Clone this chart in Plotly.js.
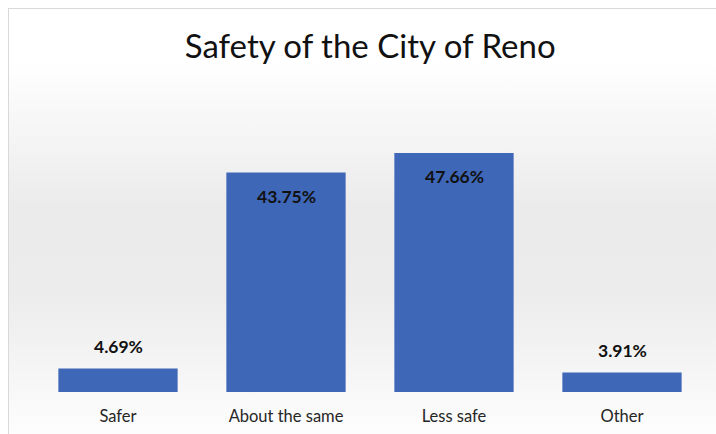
<!DOCTYPE html>
<html>
<head>
<meta charset="utf-8">
<script src="https://cdn.plot.ly/plotly-3.0.1.min.js"></script>
<style>
  html, body { margin: 0; padding: 0; background: #ffffff; }
  #frame {
    position: absolute; left: 8px; top: 8px; width: 720px; height: 440px;
    border-left: 1px solid #d9d9d9; border-top: 1px solid #d9d9d9;
    background: linear-gradient(to bottom, #ffffff 0%, #ffffff 12%, #ebebeb 45%, #ececec 65%, #ffffff 100%);
  }
  #chart { position: absolute; left: 0; top: 0; width: 716px; height: 434px; }
</style>
</head>
<body>
<div id="frame"></div>
<div id="chart"></div>
<script>
const categories = ["Safer", "About the same", "Less safe", "Other"];
const values = [4.69, 43.75, 47.66, 3.91];
const valueLabels = ["4.69%", "43.75%", "47.66%", "3.91%"];
const insideThreshold = 20;

const annotations = categories.map((c, i) => {
  const inside = values[i] > insideThreshold;
  return {
    x: c, y: values[i], xref: 'x', yref: 'y',
    text: '<b>' + valueLabels[i] + '</b>',
    showarrow: false,
    yshift: inside ? -24 : 22,
    font: { family: 'Lato, "Open Sans", sans-serif', size: 17.5, color: '#111111' }
  };
});

const trace = {
  type: 'bar',
  x: categories,
  y: values,
  marker: { color: '#3e67b8', line: { width: 0 } },
  hoverinfo: 'none'
};

const layout = {
  width: 716, height: 434,
  margin: { l: 34, r: 10, t: 60, b: 42 },
  paper_bgcolor: 'rgba(0,0,0,0)',
  plot_bgcolor: 'rgba(0,0,0,0)',
  bargap: 0.29,
  showlegend: false,
  title: {
    text: 'Safety of the City of Reno',
    x: 0.517, xanchor: 'center', y: 0.892, yanchor: 'middle',
    font: { family: 'Lato, "Open Sans", sans-serif', size: 33, color: '#111111' }
  },
  xaxis: {
    showgrid: false, zeroline: false, showline: false, ticks: '',
    ticklabelstandoff: 12,
    tickfont: { family: 'Lato, "Open Sans", sans-serif', size: 16.5, color: '#262626' }
  },
  yaxis: {
    range: [0, 66.2], visible: false, showgrid: false, zeroline: false, fixedrange: true
  },
  annotations: annotations
};

Plotly.newPlot('chart', [trace], layout, { displayModeBar: false, staticPlot: true });
</script>
</body>
</html>
